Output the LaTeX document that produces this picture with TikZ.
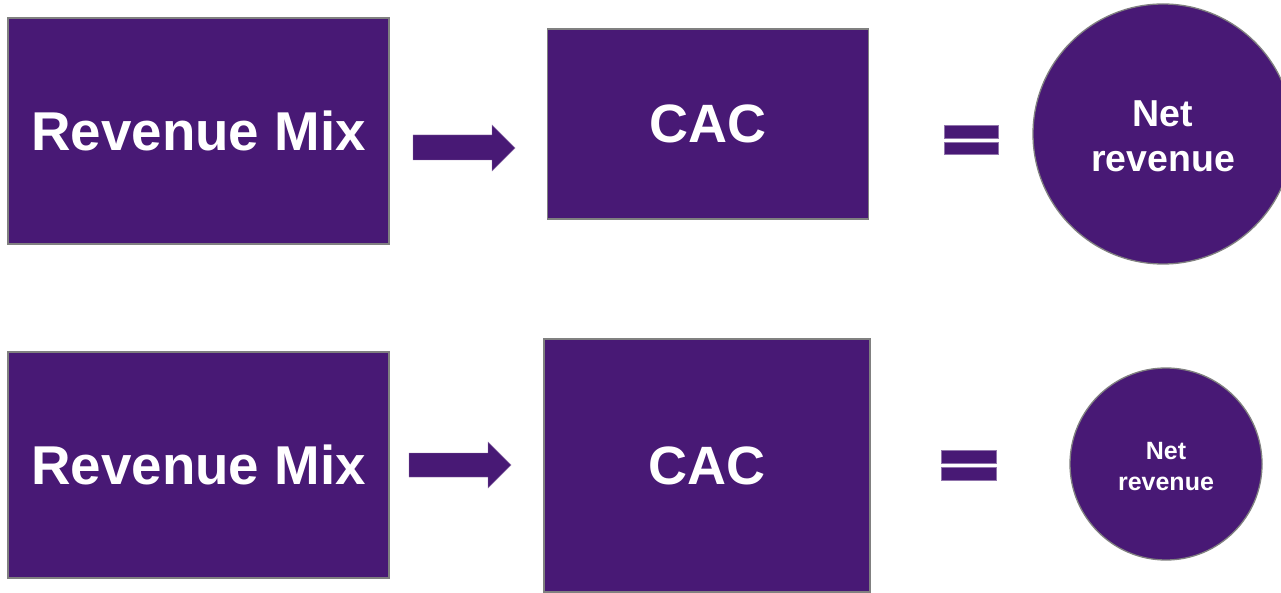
\documentclass[tikz,border=0pt]{standalone}
\usepackage{fontspec}
\setmainfont{Liberation Sans}
\begin{document}
\begin{tikzpicture}[x=1pt,y=-1pt,
  box/.style={draw=boxline,line width=1.3pt,fill=purp,text=white,inner sep=0pt},
  disc/.style={circle,draw=boxline,line width=1.3pt,fill=purp,text=white,inner sep=0pt,align=center},
  shapefill/.style={fill=purp,draw=purp!60!white,line width=0.4pt}]
\definecolor{purp}{HTML}{481975}
\definecolor{boxline}{HTML}{808080}
\clip (0,0) rectangle (1281,593);
\fill[white] (0,0) rectangle (1281,593);
% top row
\node[box,minimum width=381pt,minimum height=226pt,font=\bfseries\fontsize{54.7}{60}\selectfont] (rm1) at (198.5,131) {Revenue Mix};
\node[box,minimum width=321pt,minimum height=190pt,font=\bfseries\fontsize{54}{60}\selectfont] (cac1) at (708,124) {CAC};
\node[disc,minimum size=260pt] (nr1) at (1163,134) {};
\node[text=white,align=center,inner sep=0pt,font=\bfseries\fontsize{37.5}{45}\selectfont] (nr1t) at ([yshift=-2pt]nr1.center) {Net\\ revenue};
\path[shapefill] (413,135) -- (492,135) -- (492,125) -- (515,148) -- (492,171) -- (492,160) -- (413,160) -- cycle;
\path[shapefill] (944,125) rectangle (998,138);
\path[shapefill] (944,142) rectangle (998,154);
% bottom row
\node[box,minimum width=381pt,minimum height=226pt,font=\bfseries\fontsize{54.7}{60}\selectfont] (rm2) at (198.5,465) {Revenue Mix};
\node[box,minimum width=326pt,minimum height=253pt,font=\bfseries\fontsize{54}{60}\selectfont] (cac2) at (707,465.5) {CAC};
\node[disc,minimum size=192pt] (nr2) at (1166,464) {};
\node[text=white,align=center,inner sep=0pt,font=\bfseries\fontsize{25}{31}\selectfont] (nr2t) at ([yshift=-2.5pt]nr2.center) {Net\\ revenue};
\path[shapefill] (409,453) -- (488,453) -- (488,442) -- (511,465) -- (488,488) -- (488,477) -- (409,477) -- cycle;
\path[shapefill] (941,450) rectangle (996,463);
\path[shapefill] (941,467) rectangle (996,480);
\end{tikzpicture}
\end{document}
